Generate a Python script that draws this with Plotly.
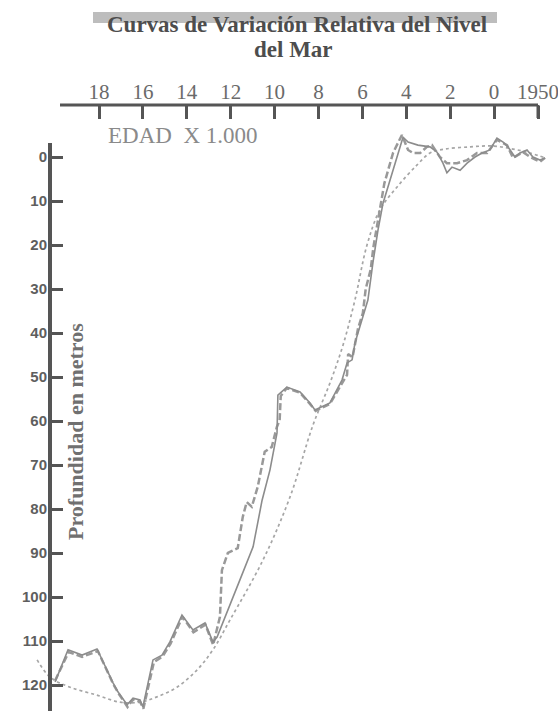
import plotly.graph_objects as go

W, H = 558, 711

# ---- data (age in ka, depth in m) ----
edad_continua = [20.00, 19.41, 18.77, 18.09, 17.36, 17.13, 16.72, 16.45, 16.13, 16.00, 15.54, 15.13, 14.77,
                 14.22, 13.72, 13.17, 12.81, 12.62, 11.58, 10.98, 10.57, 10.21, 9.89, 9.85, 9.44, 8.84, 8.39,
                 8.16, 7.48, 6.93, 6.70, 6.47, 6.34, 6.02, 5.75, 5.52, 5.29, 5.06, 4.61, 4.15, 3.92, 3.47,
                 2.92, 2.60, 2.33, 2.15, 1.92, 1.55, 1.23, 0.87, 0.55, 0.19, -0.13, -0.41, -0.63, -0.95,
                 -1.18, -1.50, -1.77, -2.09, -2.32]
prof_continua = [119.3, 112.0, 113.2, 111.8, 119.5, 121.6, 124.5, 123.0, 123.4, 125.0, 114.3, 113.2, 110.2,
                 104.1, 107.5, 105.9, 110.2, 109.1, 96.1, 88.6, 78.0, 71.1, 62.7, 54.1, 52.3, 53.4, 55.9,
                 57.5, 55.9, 50.7, 46.8, 46.1, 42.3, 37.0, 32.5, 24.0, 16.6, 10.5, 3.0, -4.5, -3.4, -2.7,
                 -2.3, -1.1, 1.4, 3.6, 2.3, 3.0, 1.4, 0.0, -0.9, -1.6, -4.3, -3.4, -2.3, 0.0,
                 -0.9, -1.6, 0.0, 0.7, 0.2]

edad_discontinua = [20.00, 19.38, 18.77, 18.05, 17.33, 17.10, 16.70, 16.45, 16.13, 15.98, 15.50, 15.10, 14.74,
                    14.20, 13.70, 13.15, 12.80, 12.49, 12.40, 12.13, 11.68, 11.45, 11.27, 11.04, 10.77, 10.45,
                    10.13, 9.90, 9.77, 9.72, 9.44, 8.84, 8.39, 8.13, 7.48, 6.97, 6.70, 6.65, 6.45, 6.20, 5.98,
                    5.85, 5.62, 5.50, 5.25, 5.00, 4.60, 4.20, 3.92, 3.69, 3.37, 3.06, 2.83, 2.47, 2.15, 1.69,
                    1.23, 0.78, 0.32, -0.13, -0.59, -0.86, -1.32, -1.64, -2.09, -2.32]
prof_discontinua = [119.0, 112.5, 113.6, 112.3, 120.0, 122.0, 125.0, 123.3, 123.8, 125.4, 114.8, 113.5, 110.6,
                    104.5, 108.0, 106.3, 110.9, 104.5, 93.9, 90.0, 88.9, 81.8, 78.4, 79.5, 75.0, 67.0,
                    65.9, 61.4, 59.8, 54.3, 52.5, 53.6, 56.1, 57.7, 56.1, 51.8, 49.5, 44.8, 45.5, 39.0, 35.5,
                    30.0, 25.5, 20.5, 13.0, 6.0, -1.0, -5.0, -1.6, -0.9, -0.9, -2.3, -2.7, 0.0, 1.4, 1.4,
                    0.7, -0.9, -0.9, -3.9, -2.7, 0.2, -1.1, 0.0, 1.1, 0.2]

edad_punteada = [20.82, 20.23, 19.32, 18.09, 17.04, 16.13, 15.36, 14.45, 13.54, 12.81, 12.03, 10.53, 9.30,
                 8.25, 7.48, 6.88, 6.34, 5.79, 5.20, 4.42, 3.51, 2.92, 2.24, 1.10, 0.05, -0.86, -1.64, -2.32]
prof_punteada = [114.3, 118.2, 120.5, 122.3, 123.9, 123.9, 122.7, 120.5, 116.6, 112.0, 105.2, 91.6, 77.3,
                 60.9, 51.4, 42.7, 32.5, 20.0, 12.0, 6.8, 1.8, -0.9, -1.8, -2.3, -2.5, -1.8, -0.9, 0.2]

edad_ticks = [18, 16, 14, 12, 10, 8, 6, 4, 2, 0, -2]
edad_labels = ["18", "16", "14", "12", "10", "8", "6", "4", "2", "0", "1950"]
prof_ticks = [0, 10, 20, 30, 40, 50, 60, 70, 80, 90, 100, 110, 120]

# ---- pixel geometry helpers ----
PX_PER_KA = 21.95
X_AT_PX0 = 18 + 99 / PX_PER_KA
X_AT_PXW = 18 - (W - 99) / PX_PER_KA
PX_PER_M = 4.4
Y_AT_PX0 = -157 / PX_PER_M
Y_AT_PXH = (H - 157) / PX_PER_M


def px(xp):
    return xp / W


def py(yp):
    return 1 - yp / H


fig = go.Figure()
fig.add_trace(go.Scatter(x=edad_punteada, y=prof_punteada, mode="lines",
                         line=dict(color="#a6a6a6", width=1.7, dash="dot", shape="spline"),
                         showlegend=False))
fig.add_trace(go.Scatter(x=edad_discontinua, y=prof_discontinua, mode="lines",
                         line=dict(color="#999999", width=2.5, dash="7px,3px"),
                         showlegend=False))
fig.add_trace(go.Scatter(x=edad_continua, y=prof_continua, mode="lines",
                         line=dict(color="#8c8c8c", width=1.6),
                         showlegend=False))

axis_col = "#555555"

fig.update_layout(
    width=W, height=H, margin=dict(l=0, r=0, t=0, b=0),
    paper_bgcolor="white", plot_bgcolor="white",
    xaxis=dict(range=[X_AT_PX0, X_AT_PXW], domain=[0, 1], side="top", anchor="free",
               position=py(105), showgrid=False, zeroline=False, showline=False,
               ticks="inside", ticklen=13, tickwidth=3, tickcolor=axis_col,
               tickvals=edad_ticks, ticktext=edad_labels, ticklabelstandoff=2,
               ticklabeloverflow="allow",
               tickfont=dict(family="Liberation Serif", size=21, color="#6a6a6a"),
               automargin=False),
    yaxis=dict(range=[Y_AT_PXH, Y_AT_PX0], domain=[0, 1], anchor="free", position=px(50),
               side="left", showgrid=False, zeroline=False, showline=False,
               ticks="inside", ticklen=12, tickwidth=3, tickcolor=axis_col,
               tickvals=prof_ticks, ticklabelstandoff=3,
               tickfont=dict(family="Liberation Sans", size=15, color="#5e5e5e", weight="bold"),
               automargin=False),
    shapes=[
        dict(type="rect", xref="paper", yref="paper", x0=px(93), x1=px(497), y0=py(23), y1=py(12),
             fillcolor="#bdbdbd", line=dict(width=0), layer="below"),
        dict(type="line", xref="paper", yref="paper", x0=px(60), x1=px(538), y0=py(105), y1=py(105),
             line=dict(color=axis_col, width=3), layer="above"),
        dict(type="line", xref="paper", yref="paper", x0=px(538), x1=px(538), y0=py(105), y1=py(118),
             line=dict(color=axis_col, width=3), layer="above"),
        dict(type="line", xref="paper", yref="paper", x0=px(50), x1=px(50), y0=py(143), y1=0,
             line=dict(color=axis_col, width=4), layer="above"),
    ],
    annotations=[
        dict(text="<b>Curvas de Variación Relativa del Nivel</b>", xref="paper", yref="paper",
             x=px(297), y=py(25), xanchor="center", yanchor="middle", showarrow=False,
             font=dict(family="Liberation Serif", size=23, color="#4d4d4d")),
        dict(text="<b>del Mar</b>", xref="paper", yref="paper",
             x=px(293), y=py(49), xanchor="center", yanchor="middle", showarrow=False,
             font=dict(family="Liberation Serif", size=23, color="#4d4d4d")),
        dict(text="EDAD  X 1.000", xref="paper", yref="paper",
             x=px(106), y=py(136), xanchor="left", yanchor="middle", showarrow=False,
             font=dict(family="Liberation Serif", size=23, color="#8a8a8a")),
        dict(text="<b>Profundidad en metros</b>", xref="paper", yref="paper",
             x=px(75), y=py(432), xanchor="center", yanchor="middle", showarrow=False,
             textangle=-90, font=dict(family="Liberation Serif", size=22, color="#707070")),
    ],
)

fig.write_html("out.html")
